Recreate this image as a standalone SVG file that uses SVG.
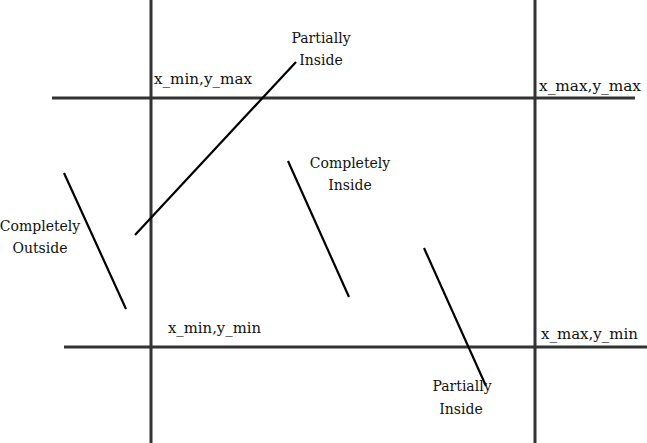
<svg xmlns="http://www.w3.org/2000/svg" width="647" height="443" viewBox="0 0 647 443">
<style>
.grid{stroke:#333;stroke-width:3;fill:none}
.seg{stroke:#000;stroke-width:2.2;fill:none}
text{font-family:"DejaVu Serif","Liberation Serif",serif;font-size:14px;fill:#111}
.c{text-anchor:middle}
</style>
<rect width="647" height="443" fill="#fff"/>
<g id="window">
<line class="grid" x1="151" y1="0" x2="151" y2="443"/>
<line class="grid" x1="535" y1="0" x2="535" y2="443"/>
<line class="grid" x1="52" y1="98" x2="635" y2="98"/>
<line class="grid" x1="64" y1="347" x2="647" y2="347"/>
</g>
<g id="corners">
<text x="154" y="84" textLength="98" lengthAdjust="spacingAndGlyphs">x_min,y_max</text>
<text x="539" y="91" textLength="102" lengthAdjust="spacingAndGlyphs">x_max,y_max</text>
<text x="168" y="333" textLength="93" lengthAdjust="spacingAndGlyphs">x_min,y_min</text>
<text x="541" y="339" textLength="97" lengthAdjust="spacingAndGlyphs">x_max,y_min</text>
</g>
<g id="connectors">
<line class="seg" x1="64" y1="173" x2="126" y2="309"/>
<line class="seg" x1="135" y1="235" x2="296" y2="62"/>
<line class="seg" x1="288" y1="161" x2="349" y2="297"/>
<line class="seg" x1="424" y1="248" x2="486" y2="386"/>
</g>
<g id="outside-label">
<text class="c" x="40" y="231">Completely</text>
<text class="c" x="40" y="253">Outside</text>
</g>
<g id="partial-top-label">
<text class="c" x="321" y="43">Partially</text>
<text class="c" x="321" y="65">Inside</text>
</g>
<g id="inside-label">
<text class="c" x="350" y="168">Completely</text>
<text class="c" x="350" y="190">Inside</text>
</g>
<g id="partial-bottom-label">
<text class="c" x="462" y="391">Partially</text>
<text class="c" x="461" y="414">Inside</text>
</g>
</svg>
